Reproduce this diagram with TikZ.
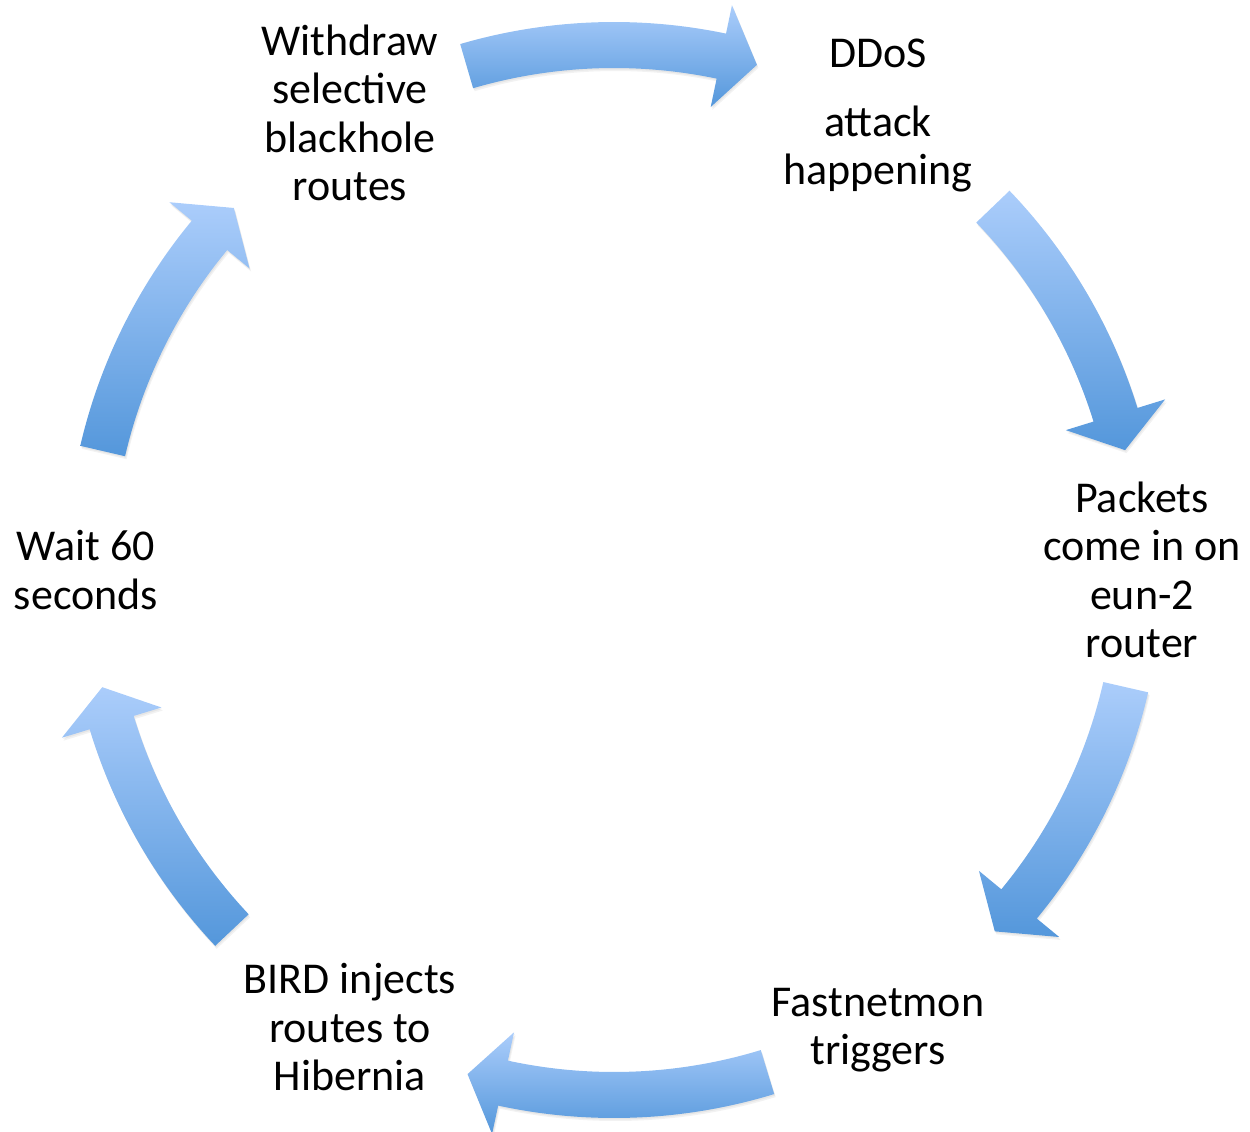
\documentclass[tikz,border=0pt]{standalone}
\usepackage{fontspec}
\setmainfont{Carlito}
\usetikzlibrary{calc}
\definecolor{arrowtop}{RGB}{171,205,251}
\definecolor{arrowbot}{RGB}{84,151,219}
\newcommand\cycshape[3]{%
  \path[#3] (#1:548) arc[start angle=#1, end angle={#2+4}, radius=548]
    -- ({#2+4}:577) -- (#2:525) -- ({#2+4}:473) -- ({#2+4}:502)
    arc[start angle={#2+4}, end angle=#1, radius=502] -- cycle;}
\newcommand\cycarrow[2]{%
  \begin{scope}[shift={(1.5,-3)}]\cycshape{#1}{#2}{arrowshadow}\end{scope}%
  \begin{scope}[shift={(0.8,-1.5)}]\cycshape{#1}{#2}{arrowshadow}\end{scope}%
  \cycshape{#1}{#2}{arrowshade}}
\begin{document}
\begin{tikzpicture}[x=0.6pt,y=0.6pt,
  arrowshade/.style={top color=arrowtop, bottom color=arrowbot, draw=none},
  arrowshadow/.style={fill=black, fill opacity=0.05, draw=none},
  steptext/.style={align=center, inner sep=0pt, font=\fontsize{26.4}{29.1}\selectfont}]
\useasboundingbox (-614,-562) rectangle (636,570);
\node[steptext] (ddos) at ($(60:528)+(0,-3)$) {DDoS\\[12pt]attack\\happening};
\node[steptext] (packets) at (0:528) {Packets\\come in on\\eun-2\\router};
\node[steptext] (fast) at ($(-60:528)+(0,-3)$) {Fastnetmon\\triggers};
\node[steptext] (bird) at (240:528) {BIRD injects\\routes to\\Hibernia};
\node[steptext] (wait) at (180:528) {Wait 60\\seconds};
\node[steptext] (withdraw) at (120:528) {Withdraw\\selective\\blackhole\\routes};
\cycarrow{106.3}{74.2}
\cycarrow{43.8}{13.2}
\cycarrow{-12.9}{-43.5}
\cycarrow{-73}{-106.2}
\cycarrow{223.3}{192.9}
\cycarrow{166.9}{136.4}
\end{tikzpicture}
\end{document}
